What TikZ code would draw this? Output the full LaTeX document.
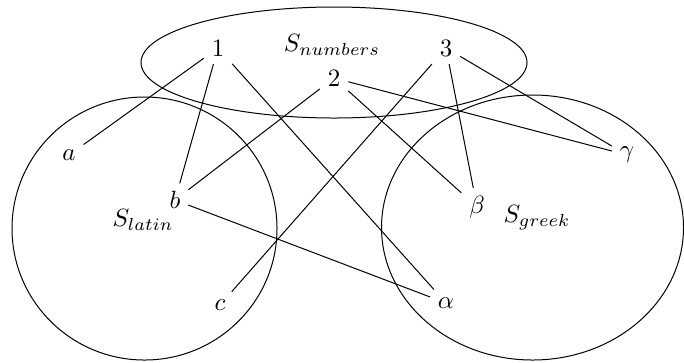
\documentclass[tikz,border=0pt]{standalone}
\begin{document}
\begin{tikzpicture}[x=0.4pt,y=-0.4pt,
  lbl/.style={inner sep=3pt},
  link/.style={draw=black,line width=0.4pt}]
\useasboundingbox (0,0) rectangle (684,362);
% sets
\draw (334,62.5) ellipse [x radius=77.2pt, y radius=22.2pt];
\draw (144.5,228.5) ellipse [x radius=53pt, y radius=52.6pt];
\draw (532.5,227.5) ellipse [x radius=60.4pt, y radius=53pt];
% set labels
\node (Sn) at (332,45) {$S_{numbers}$};
\node (Sl) at (143,220) {$S_{latin}$};
\node (Sg) at (537,218) {$S_{greek}$};
% elements
\node[lbl] (n1) at (218,48) {$1$};
\node[lbl] (n2) at (334,78) {$2$};
\node[lbl] (n3) at (446,48) {$3$};
\node[lbl] (a) at (69,155) {$a$};
\node[lbl] (b) at (175,200) {$b$};
\node[lbl] (c) at (220,305) {$c$};
\node[lbl] (al) at (446,303) {$\alpha$};
\node[lbl] (be) at (477,207) {$\beta$};
\node[lbl] (ga) at (627,155) {$\gamma$};
% connectors
\draw[link] (n1) -- (a);
\draw[link] (n1) -- (b);
\draw[link] (n1) -- (al);
\draw[link] (n2) -- (b);
\draw[link] (n2) -- (be);
\draw[link] (n2) -- (ga);
\draw[link] (n3) -- (c);
\draw[link] (n3) -- (be);
\draw[link] (n3) -- (ga);
\draw[link] (b) -- (al);
\end{tikzpicture}
\end{document}
